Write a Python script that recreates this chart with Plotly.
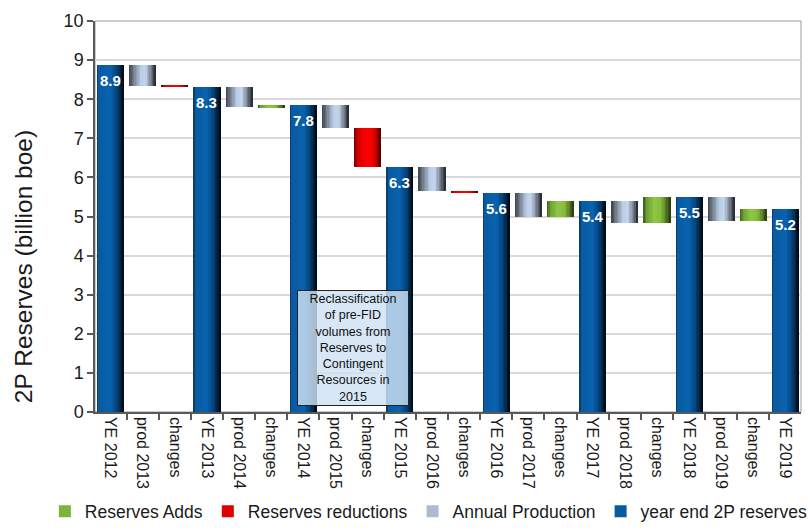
import plotly.graph_objects as go

# Waterfall of 2P reserves (billion boe)
ye_labels = ["YE 2012", "YE 2013", "YE 2014", "YE 2015", "YE 2016", "YE 2017", "YE 2018", "YE 2019"]
prod_labels = ["prod 2013", "prod 2014", "prod 2015", "prod 2016", "prod 2017", "prod 2018", "prod 2019"]
ye_reserves = [8.87, 8.32, 7.84, 6.26, 5.59, 5.40, 5.51, 5.18]
production = [0.52, 0.53, 0.58, 0.62, 0.59, 0.56, 0.62]
reserve_changes = [-0.03, 0.05, -1.00, -0.05, 0.40, 0.67, 0.29]

FONT = "Liberation Sans, Arial, sans-serif"
BAR_W = 0.84
STRIPS = 20

# Horizontal shading for each bar family (position, colour)
BLUE = [(0, "#0b2c4d"), (0.06, "#0a5aa0"), (0.5, "#0862b0"), (0.72, "#05457e"), (0.9, "#021d38"), (1, "#000814")]
GREY = [(0, "#3a4048"), (0.15, "#6b7683"), (0.42, "#b8cce4"), (0.6, "#c4d7ee"), (0.8, "#7a8594"), (1, "#1f2329")]
GREEN = [(0, "#38561a"), (0.12, "#6e9f34"), (0.4, "#8fc743"), (0.65, "#86bb3e"), (0.85, "#4f7522"), (1, "#25380d")]
RED = [(0, "#600000"), (0.12, "#d00000"), (0.45, "#ff0000"), (0.7, "#f00000"), (0.88, "#a00000"), (1, "#4a0000")]


def hex_rgb(h):
    h = h.lstrip("#")
    return [int(h[i:i + 2], 16) for i in (0, 2, 4)]


def shade(stops, t):
    for (p0, c0), (p1, c1) in zip(stops, stops[1:]):
        if p0 <= t <= p1:
            f = (t - p0) / (p1 - p0) if p1 > p0 else 0
            a, b = hex_rgb(c0), hex_rgb(c1)
            return "rgb(%d,%d,%d)" % tuple(round(a[k] + (b[k] - a[k]) * f) for k in range(3))
    return stops[-1][1]


# category positions along the axis
labels = []
for i, y in enumerate(ye_labels):
    labels.append(y)
    if i < len(prod_labels):
        labels.append(prod_labels[i])
        labels.append("changes")
ye_x = [3 * i for i in range(len(ye_reserves))]
prod_x = [3 * i + 1 for i in range(len(production))]
chg_x = [3 * i + 2 for i in range(len(reserve_changes))]

prod_base = [ye_reserves[i] - production[i] for i in range(len(production))]

adds = [(chg_x[i], prod_base[i], c) for i, c in enumerate(reserve_changes) if c > 0]
cuts = [(chg_x[i], prod_base[i], c) for i, c in enumerate(reserve_changes) if c < 0]

fig = go.Figure()


def gradient_bars(xs, bases, heights, stops, name, rank, legend_color):
    step = BAR_W / STRIPS
    for k in range(STRIPS):
        t = (k + 0.5) / STRIPS
        # each strip reaches to the right edge so no seams show between strips
        w = BAR_W - k * step
        fig.add_trace(go.Bar(
            x=xs, y=heights, base=bases,
            width=[w] * len(xs), offset=[-BAR_W / 2 + k * step] * len(xs),
            marker=dict(color=shade(stops, t), line=dict(width=0)),
            showlegend=False, hoverinfo="skip", name=name,
        ))
    # legend swatch for the family
    fig.add_trace(go.Bar(
        x=[None], y=[None], name=name, legendrank=rank,
        marker=dict(color=legend_color, line=dict(width=0)),
    ))


gradient_bars(ye_x, [0] * len(ye_x), ye_reserves, BLUE, "year end 2P reserves", 4, "#0a5aa0")
gradient_bars(prod_x, prod_base, production, GREY, "Annual Production", 3, "#a9bcd4")
gradient_bars([a[0] for a in cuts], [a[1] for a in cuts], [a[2] for a in cuts], RED, "Reserves reductions", 2, "#e00000")
gradient_bars([a[0] for a in adds], [a[1] for a in adds], [a[2] for a in adds], GREEN, "Reserves Adds", 1, "#7fb43c")

# value labels at the top of the year-end bars
for x, v in zip(ye_x, ye_reserves):
    fig.add_annotation(x=x, y=v, text="%.1f" % v, showarrow=False, yanchor="top", yshift=-5,
                       font=dict(family=FONT, size=15, color="white", weight="bold"))

fig.add_annotation(
    x=7.53, y=1.63, xref="x", yref="y", width=108,
    text="Reclassification<br>of pre-FID<br>volumes from<br>Reserves to<br>Contingent<br>Resources in<br>2015",
    showarrow=False, font=dict(family=FONT, size=12.5, color="#111111"),
    bgcolor="rgba(206,226,243,0.82)", bordercolor="#222222", borderwidth=1, borderpad=1,
)

fig.add_annotation(
    text="2P Reserves (billion boe)", textangle=-90, showarrow=False,
    xref="paper", yref="paper", x=-0.102, y=0.373, xanchor="center", yanchor="middle",
    font=dict(family=FONT, size=24.5, color="#1a1a1a"),
)

fig.add_shape(type="rect", xref="paper", yref="paper", x0=0, y0=0, x1=1, y1=1,
              line=dict(color="#9a9a9a", width=1), layer="below")

fig.update_layout(
    width=811, height=530,
    margin=dict(l=95, r=10, t=21, b=118, autoexpand=False),
    plot_bgcolor="white", paper_bgcolor="white",
    barmode="overlay", bargap=0,
    font=dict(family=FONT, color="#1a1a1a"),
    legend=dict(orientation="h", x=-0.071, xanchor="left", y=-0.30, yanchor="bottom",
                font=dict(family=FONT, size=17.5, color="#1a1a1a"), itemwidth=30,
                traceorder="normal"),
    xaxis=dict(
        range=[-0.48, 21.48], tickmode="array", tickvals=list(range(len(labels))), ticktext=labels,
        tickangle=90, ticks="", showgrid=False, zeroline=False, automargin=False,
        showline=True, linecolor="#595959", linewidth=1.5,
        tickfont=dict(family=FONT, size=16, color="#1a1a1a"),
        minor=dict(tickmode="array", tickvals=[i - 0.5 for i in range(len(labels) + 1)],
                   ticks="outside", ticklen=6, tickcolor="#595959", tickwidth=1.5, showgrid=False),
    ),
    yaxis=dict(
        range=[0, 10], dtick=1, tick0=0, showgrid=True, gridcolor="#d9d9d9", gridwidth=1.5,
        zeroline=False, showline=True, linecolor="#595959", linewidth=1.5, automargin=False,
        ticks="outside", ticklen=6, tickcolor="#595959", tickwidth=1.5,
        tickfont=dict(family=FONT, size=18, color="#1a1a1a"),
    ),
)

fig.write_html("out.html")
